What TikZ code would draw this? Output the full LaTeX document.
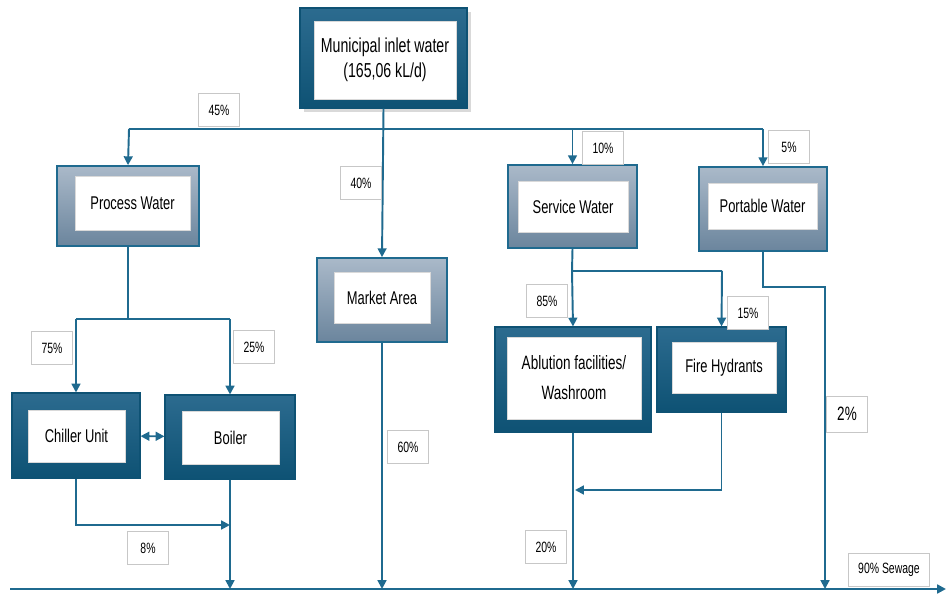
\documentclass[tikz,border=0pt]{standalone}
\usepackage{fontspec}
\setmainfont{Liberation Sans}[FakeStretch=0.7]
\usetikzlibrary{arrows.meta, shadows}

\definecolor{flowblue}{HTML}{1F6A8F}
\definecolor{darktop}{HTML}{2C6B8F}
\definecolor{darkbot}{HTML}{0E5274}
\definecolor{greytop}{HTML}{AAB9C9}
\definecolor{greybot}{HTML}{6B859D}

\tikzset{
    darkbox/.style = {top color=darktop, bottom color=darkbot, draw=darkbot, line width=0.6pt},
    greybox/.style = {top color=greytop, bottom color=greybot, draw=flowblue, line width=1pt},
    inner/.style = {fill=white, draw=black!15, line width=0.3pt, align=center, font=\fontsize{10.5}{15}\selectfont, inner sep=0pt},
    pct/.style = {fill=white, draw=black!22, line width=0.4pt, font=\fontsize{8.5}{9}\selectfont, minimum width=0.82cm, minimum height=0.66cm, inner sep=1pt},
    flow/.style = {draw=flowblue, line width=1.1pt, -{Triangle[length=5pt, width=5pt]}},
    link/.style = {draw=flowblue, line width=1.1pt},
}

\begin{document}
\begin{tikzpicture}[x=0.02cm, y=-0.02cm]
    \useasboundingbox (0,0) rectangle (946,597);

    % boxes
    \node[darkbox, drop shadow={opacity=0.3, shadow xshift=2.5pt, shadow yshift=-2.5pt}, minimum width=3.34cm, minimum height=2cm] (muni) at (383.5,58) {};
    \node[inner, minimum width=2.84cm, minimum height=1.56cm, font=\fontsize{11.5}{14.5}\selectfont] at (385,60) {Municipal inlet water\\(165,06 kL/d)};

    \node[greybox, minimum width=2.84cm, minimum height=1.6cm] (process) at (128,206) {};
    \node[inner, minimum width=2.3cm, minimum height=1.08cm] at (132.5,203) {Process Water};

    \node[greybox, minimum width=2.6cm, minimum height=1.68cm] (market) at (382,300) {};
    \node[inner, minimum width=1.92cm, minimum height=1.02cm] at (382,298) {Market Area};

    \node[greybox, minimum width=2.58cm, minimum height=1.66cm] (service) at (572.5,206.5) {};
    \node[inner, minimum width=2.2cm, minimum height=1.02cm] at (573,206.5) {Service Water};

    \node[greybox, minimum width=2.56cm, minimum height=1.68cm] (portable) at (763,209) {};
    \node[inner, minimum width=2.18cm, minimum height=0.92cm] at (762.5,206) {Portable Water};

    \node[darkbox, minimum width=2.56cm, minimum height=1.7cm] (chiller) at (76,435.5) {};
    \node[inner, minimum width=1.94cm, minimum height=1.04cm] at (76.5,436) {Chiller Unit};

    \node[darkbox, minimum width=2.6cm, minimum height=1.68cm] (boiler) at (230,437) {};
    \node[inner, minimum width=1.94cm, minimum height=1.06cm] at (230.5,437.5) {Boiler};

    \node[darkbox, minimum width=3.12cm, minimum height=2.1cm] (ablution) at (573,379.5) {};
    \node[inner, minimum width=2.68cm, minimum height=1.64cm, font=\fontsize{11}{17}\selectfont] at (574,378) {Ablution facilities/\\Washroom};

    \node[darkbox, minimum width=2.58cm, minimum height=1.7cm] (fire) at (721.5,369.5) {};
    \node[inner, minimum width=2.08cm, minimum height=1.02cm] at (724,367.5) {Fire Hydrants};

    % junction points
    \coordinate (tl) at (129,129);
    \coordinate (tr) at (763,129);
    \coordinate (pl) at (76,319);
    \coordinate (pr) at (230,319);
    \coordinate (sl) at (572,271);
    \coordinate (sr) at (722,271);
    \coordinate (cb) at (230,525);
    \coordinate (fa) at (575,490);
    \coordinate (pt) at (825,287);
    \coordinate (bl) at (10,589);
    \coordinate (br) at (946,589);

    % connectors
    \draw[flow] (muni.south) -- (market.north);
    \draw[link] (tl) -- (tr);
    \draw[flow] (tl) -- (process.north);
    \draw[flow] (service.north |- tl) -- (service.north);
    \draw[flow] (tr) -- (portable.north);

    \draw[link] (process.south) -- (process.south |- pl);
    \draw[link] (pl) -- (pr);
    \draw[flow] (pl) -- (chiller.north);
    \draw[flow] (pr) -- (boiler.north);
    \draw[draw=flowblue, line width=1.1pt, {Triangle[length=5pt, width=5pt]}-{Triangle[length=5pt, width=5pt]}] (chiller) -- (boiler);

    \draw[link] (service.south) -- (sl) -- (sr);
    \draw[flow] (sl) -- (ablution.north);
    \draw[flow] (sr) -- (fire.north);

    \draw[flow] (chiller.south) |- (cb);
    \draw[flow] (boiler.south) -- (boiler.south |- bl);
    \draw[flow] (market.south) -- (market.south |- bl);
    \draw[flow] (fire.south) |- (fa);
    \draw[flow] (ablution.south) -- (ablution.south |- bl);
    \draw[flow] (portable.south) |- (pt) -- (pt |- bl);
    \draw[flow, line width=1.4pt] (bl) -- (br);

    % percentages
    \node[pct] (p45) at (219,110) {45\%};
    \node[pct] (p40) at (361,183) {40\%};
    \node[pct] (p10) at (603,148) {10\%};
    \node[pct] (p5) at (789,147) {5\%};
    \node[pct] (p75) at (52,348) {75\%};
    \node[pct] (p25) at (254,347) {25\%};
    \node[pct] (p85) at (547,301) {85\%};
    \node[pct] (p15) at (748,313) {15\%};
    \node[pct] (p60) at (408,447) {60\%};
    \node[pct] (p8) at (148,548) {8\%};
    \node[pct] (p20) at (546,547) {20\%};
    \node[pct, font=\fontsize{11}{12}\selectfont, minimum height=0.72cm] (p2) at (847,414) {2\%};
    \node[pct, minimum width=1.62cm] (sewage) at (889,570) {90\% Sewage};
\end{tikzpicture}
\end{document}
